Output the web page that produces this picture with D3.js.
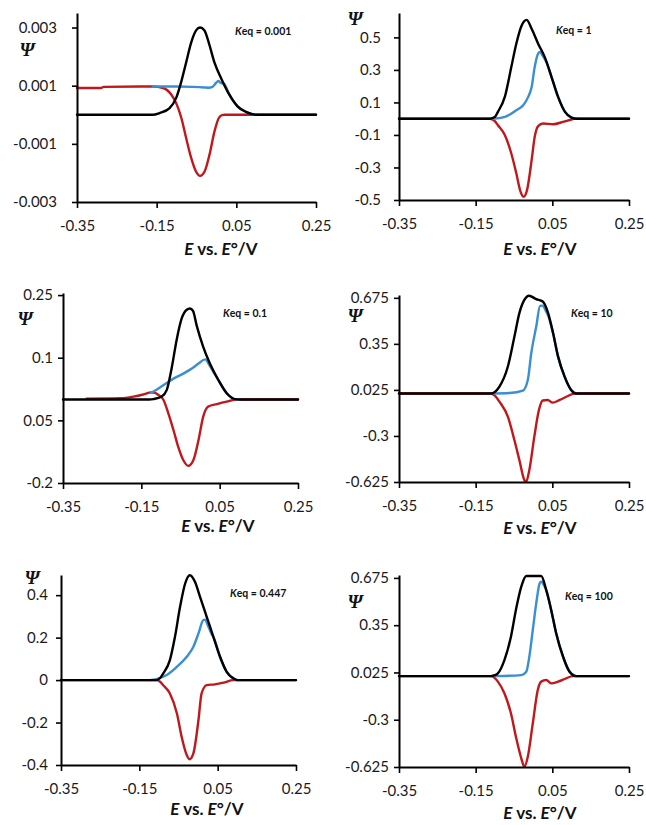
<!DOCTYPE html>
<html>
<head>
<meta charset="utf-8">
<script src="https://cdn.jsdelivr.net/npm/d3@7"></script>
<style>
  html, body { margin: 0; padding: 0; background: #fff; }
  svg { display: block; }
</style>
</head>
<body>
<svg id="chart" width="646" height="825"></svg>
<script>
// ---------------- DATA ----------------
const E_TICKS = [-0.35, -0.15, 0.05, 0.25];
const E_TICK_LABELS = ["-0.35", "-0.15", "0.05", "0.25"];
const E_DOMAIN = [-0.35, 0.25];
const KEQ_VALUES = ["0.001", "1", "0.1", "10", "0.447", "100"];

// Keq = 0.001
const k0001_yDomain = [-0.003, 0.0035];
const k0001_yTicks = [-0.003, -0.001, 0.001, 0.003];
const k0001_yLabels = ["-0.003", "-0.001", "0.001", "0.003"];
const k0001_black = [[-0.35,0],[-0.16,0],[-0.1425,0.00006],[-0.1175,0.00023],[-0.101,0.00058],[-0.088,0.00115],[-0.076,0.0018],[-0.063,0.0025],[-0.051,0.0029],[-0.041,0.0030],[-0.030,0.0029],[-0.0175,0.0024],[-0.005,0.0018],[0.012,0.00125],[0.0325,0.00069],[0.053,0.00029],[0.074,0.0001],[0.09,0.00002],[0.1,0],[0.25,0]];
const k0001_blue = [[-0.16,0.00097],[-0.1,0.00097],[-0.06,0.00096],[-0.03,0.00094],[-0.02,0.00093],[-0.01,0.00096],[0.0,0.00111],[0.005,0.00116],[0.011,0.00109],[0.018,0.00108],[0.0325,0.00069],[0.053,0.00029],[0.074,0.0001],[0.09,0.00002],[0.1,0]];
const k0001_red = [[-0.35,0.00092],[-0.29,0.00092],[-0.283,0.00096],[-0.19,0.00097],[-0.159,0.00097],[-0.134,0.00092],[-0.113,0.00069],[-0.101,0.0004],[-0.088,-0.00011],[-0.076,-0.0008],[-0.063,-0.0015],[-0.051,-0.00196],[-0.041,-0.0021],[-0.030,-0.00196],[-0.0175,-0.00138],[-0.005,-0.00058],[0.006,-0.00011],[0.014,-0.00001],[0.02,0],[0.25,0]];

// Keq = 1
const k1_yDomain = [-0.5, 0.65];
const k1_yTicks = [-0.5, -0.3, -0.1, 0.1, 0.3, 0.5];
const k1_yLabels = ["-0.5", "-0.3", "-0.1", "0.1", "0.3", "0.5"];
const k1_black = [[-0.35,0],[-0.113,0],[-0.100,0.01],[-0.092,0.042],[-0.074,0.134],[-0.057,0.318],[-0.044,0.461],[-0.030,0.573],[-0.017,0.608],[-0.004,0.553],[0.013,0.461],[0.030,0.38],[0.048,0.256],[0.065,0.134],[0.083,0.042],[0.10,0.007],[0.113,0],[0.25,0]];
const k1_blue = [[-0.105,0],[-0.070,0.015],[-0.044,0.052],[-0.026,0.083],[-0.013,0.134],[-0.004,0.195],[0.004,0.318],[0.013,0.40],[0.018,0.41],[0.024,0.39],[0.035,0.345],[0.048,0.256],[0.065,0.134],[0.083,0.042],[0.10,0.007],[0.113,0]];
const k1_red = [[-0.35,0],[-0.113,0],[-0.100,-0.015],[-0.092,-0.04],[-0.074,-0.10],[-0.057,-0.214],[-0.044,-0.336],[-0.033,-0.449],[-0.025,-0.48],[-0.016,-0.439],[-0.004,-0.255],[0.004,-0.112],[0.013,-0.046],[0.026,-0.03],[0.052,-0.034],[0.078,-0.02],[0.10,-0.005],[0.108,0],[0.25,0]];

// Keq = 0.1
const k01_yDomain = [-0.2, 0.255];
const k01_yTicks = [-0.2, -0.05, 0.1, 0.25];
const k01_yLabels = ["-0.2", "0.05", "0.1", "0.25"];
const k01_black = [[-0.35,0],[-0.13,0],[-0.119,0.001],[-0.098,0.007],[-0.085,0.023],[-0.072,0.078],[-0.060,0.142],[-0.047,0.194],[-0.034,0.215],[-0.026,0.218],[-0.018,0.212],[-0.009,0.178],[0.008,0.126],[0.025,0.086],[0.047,0.046],[0.068,0.015],[0.089,0.001],[0.102,0],[0.25,0]];
const k01_blue = [[-0.125,0.016],[-0.119,0.019],[-0.094,0.034],[-0.068,0.05],[-0.043,0.062],[-0.021,0.074],[-0.004,0.086],[0.013,0.096],[0.024,0.082],[0.038,0.06],[0.047,0.046],[0.068,0.015],[0.089,0.001],[0.102,0]];
const k01_red = [[-0.29,0.002],[-0.204,0.003],[-0.170,0.007],[-0.145,0.012],[-0.125,0.017],[-0.115,0.016],[-0.107,0.011],[-0.094,0],[-0.081,-0.033],[-0.068,-0.073],[-0.056,-0.113],[-0.043,-0.145],[-0.030,-0.159],[-0.017,-0.145],[-0.004,-0.097],[0.008,-0.041],[0.021,-0.017],[0.043,-0.011],[0.068,-0.005],[0.094,0],[0.25,0]];

// Keq = 10
const k10_yDomain = [-0.625, 0.695];
const k10_yTicks = [-0.625, -0.3, 0.025, 0.35, 0.675];
const k10_yLabels = ["-0.625", "-0.3", "0.025", "0.35", "0.675"];
const k10_black = [[-0.35,0],[-0.110,0],[-0.100,0.01],[-0.088,0.048],[-0.066,0.19],[-0.049,0.40],[-0.036,0.567],[-0.023,0.66],[-0.011,0.69],[0.008,0.666],[0.025,0.649],[0.039,0.567],[0.052,0.425],[0.065,0.26],[0.082,0.119],[0.099,0.025],[0.112,0],[0.25,0]];
const k10_blue = [[-0.101,0],[-0.062,0.003],[-0.027,0.02],[-0.014,0.095],[-0.005,0.284],[0.008,0.472],[0.018,0.618],[0.024,0.62],[0.034,0.578],[0.039,0.55],[0.052,0.425],[0.065,0.26],[0.082,0.119],[0.099,0.025],[0.112,0]];
const k10_red = [[-0.35,0],[-0.11,0],[-0.100,-0.015],[-0.088,-0.058],[-0.066,-0.164],[-0.049,-0.329],[-0.036,-0.47],[-0.023,-0.611],[-0.018,-0.622],[-0.010,-0.54],[0.003,-0.305],[0.015,-0.117],[0.025,-0.05],[0.038,-0.046],[0.051,-0.065],[0.069,-0.046],[0.091,-0.018],[0.108,0],[0.25,0]];

// Keq = 0.447
const k0447_yDomain = [-0.4, 0.495];
const k0447_yTicks = [-0.4, -0.2, 0, 0.2, 0.4];
const k0447_yLabels = ["-0.4", "-0.2", "0", "0.2", "0.4"];
const k0447_black = [[-0.35,0],[-0.106,0],[-0.097,0.01],[-0.089,0.031],[-0.072,0.094],[-0.059,0.204],[-0.046,0.345],[-0.033,0.455],[-0.021,0.494],[-0.008,0.463],[0.005,0.392],[0.022,0.298],[0.039,0.204],[0.056,0.11],[0.073,0.039],[0.09,0.008],[0.1,0],[0.25,0]];
const k0447_blue = [[-0.123,0],[-0.10,0.008],[-0.080,0.024],[-0.054,0.063],[-0.029,0.11],[-0.012,0.157],[0.001,0.22],[0.013,0.282],[0.018,0.285],[0.024,0.262],[0.035,0.215],[0.039,0.204],[0.056,0.11],[0.073,0.039],[0.09,0.008],[0.1,0]];
const k0447_red = [[-0.35,0],[-0.106,0],[-0.097,-0.008],[-0.089,-0.024],[-0.072,-0.063],[-0.054,-0.157],[-0.042,-0.267],[-0.029,-0.353],[-0.022,-0.373],[-0.012,-0.345],[0.001,-0.188],[0.009,-0.063],[0.022,-0.024],[0.043,-0.02],[0.065,-0.012],[0.09,0],[0.25,0]];

// Keq = 100
const k100_yDomain = [-0.625, 0.695];
const k100_yTicks = [-0.625, -0.3, 0.025, 0.35, 0.675];
const k100_yLabels = ["-0.625", "-0.3", "0.025", "0.35", "0.675"];
const k100_black = [[-0.35,0],[-0.110,0],[-0.100,0.006],[-0.092,0.019],[-0.075,0.11],[-0.058,0.271],[-0.045,0.455],[-0.031,0.615],[-0.018,0.688],[0.008,0.688],[0.021,0.688],[0.034,0.592],[0.047,0.455],[0.06,0.294],[0.078,0.133],[0.095,0.03],[0.112,0],[0.25,0]];
const k100_blue = [[-0.097,0],[-0.031,0.007],[-0.018,0.03],[-0.010,0.133],[-0.001,0.317],[0.008,0.5],[0.017,0.638],[0.021,0.649],[0.030,0.615],[0.034,0.592],[0.047,0.455],[0.06,0.294],[0.078,0.133],[0.095,0.03],[0.112,0]];
const k100_red = [[-0.35,0],[-0.11,0],[-0.092,-0.038],[-0.075,-0.118],[-0.058,-0.256],[-0.045,-0.417],[-0.031,-0.565],[-0.023,-0.623],[-0.014,-0.554],[-0.001,-0.325],[0.012,-0.096],[0.021,-0.038],[0.034,-0.027],[0.047,-0.05],[0.065,-0.038],[0.086,-0.015],[0.104,0],[0.25,0]];

// ---------------- LAYOUT ----------------
const panels = [
  { keq: KEQ_VALUES[0], yDomain: k0001_yDomain, yTicks: k0001_yTicks, yLabels: k0001_yLabels,
    black: k0001_black, blue: k0001_blue, red: k0001_red,
    xL: 77, xR: 316, yT: 13, yB: 202, yLabelGap: 20, psi: [27, 56], keqPos: [235, 35], title: [221, 255] },
  { keq: KEQ_VALUES[1], yDomain: k1_yDomain, yTicks: k1_yTicks, yLabels: k1_yLabels,
    black: k1_black, blue: k1_blue, red: k1_red,
    xL: 399, xR: 629, yT: 13, yB: 200, yLabelGap: 18, psi: [355, 25], keqPos: [556, 34], title: [540, 255] },
  { keq: KEQ_VALUES[2], yDomain: k01_yDomain, yTicks: k01_yTicks, yLabels: k01_yLabels,
    black: k01_black, blue: k01_blue, red: k01_red,
    xL: 63, xR: 298, yT: 293, yB: 483, yLabelGap: 10, psi: [25, 325], keqPos: [223, 317], title: [218, 532] },
  { keq: KEQ_VALUES[3], yDomain: k10_yDomain, yTicks: k10_yTicks, yLabels: k10_yLabels,
    black: k10_black, blue: k10_blue, red: k10_red,
    xL: 399, xR: 629, yT: 295, yB: 482, yLabelGap: 10, psi: [355, 322], keqPos: [571, 317], title: [540, 534] },
  { keq: KEQ_VALUES[4], yDomain: k0447_yDomain, yTicks: k0447_yTicks, yLabels: k0447_yLabels,
    black: k0447_black, blue: k0447_blue, red: k0447_red,
    xL: 61, xR: 296, yT: 575, yB: 765, yLabelGap: 13, psi: [32, 584], keqPos: [230, 597], title: [207, 815] },
  { keq: KEQ_VALUES[5], yDomain: k100_yDomain, yTicks: k100_yTicks, yLabels: k100_yLabels,
    black: k100_black, blue: k100_blue, red: k100_red,
    xL: 399, xR: 629, yT: 575, yB: 767, yLabelGap: 10, psi: [355, 608], keqPos: [565, 600], title: [540, 819] }
];

const COLORS = { red: "#c0181c", blue: "#3a8fd3", black: "#000000" };
const TICK_FONT = "Lato, 'Open Sans', sans-serif";

const svg = d3.select("#chart");

panels.forEach(p => {
  const x = d3.scaleLinear().domain(E_DOMAIN).range([p.xL, p.xR]);
  const y = d3.scaleLinear().domain(p.yDomain).range([p.yB, p.yT]);
  const g = svg.append("g");

  // curves
  const line = d3.line().x(d => x(d[0])).y(d => y(d[1])).curve(d3.curveMonotoneX);
  [["red", p.red], ["blue", p.blue], ["black", p.black]].forEach(([c, data]) => {
    g.append("path").datum(data).attr("d", line)
      .attr("fill", "none").attr("stroke", COLORS[c]).attr("stroke-width", 2.4)
      .attr("stroke-linejoin", "round").attr("stroke-linecap", "round");
  });

  // y axis
  const yAxis = d3.axisLeft(y).tickValues(p.yTicks)
    .tickFormat((d, i) => p.yLabels[i]).tickSize(5).tickSizeOuter(0)
    .tickPadding(p.yLabelGap - 5);
  const ya = g.append("g").attr("transform", `translate(${p.xL},0)`).call(yAxis);

  // x axis
  const xAxis = d3.axisBottom(x).tickValues(E_TICKS)
    .tickFormat((d, i) => E_TICK_LABELS[i]).tickSize(6).tickSizeOuter(0).tickPadding(12);
  const xa = g.append("g").attr("transform", `translate(0,${p.yB})`).call(xAxis);

  [ya, xa].forEach(a => {
    a.select(".domain").attr("stroke", "#000").attr("stroke-width", 2);
    a.selectAll(".tick line").attr("stroke", "#000").attr("stroke-width", 1.6);
    a.selectAll(".tick text").attr("font-family", TICK_FONT).attr("font-size", 15).attr("fill", "#1a1a1a");
  });

  // Psi label
  g.append("text").attr("x", p.psi[0]).attr("y", p.psi[1])
    .attr("text-anchor", "middle")
    .attr("font-family", "'Liberation Serif', 'DejaVu Serif', serif")
    .attr("font-weight", "bold").attr("font-style", "italic").attr("font-size", 19)
    .attr("fill", "#111").text("Ψ");

  // Keq label
  const kt = g.append("text").attr("x", p.keqPos[0]).attr("y", p.keqPos[1])
    .attr("font-family", TICK_FONT).attr("font-weight", "bold").attr("font-size", 10.5).attr("fill", "#111");
  kt.append("tspan").attr("font-style", "italic").text("K");
  kt.append("tspan").text("eq = " + p.keq);

  // x axis title
  const tt = g.append("text").attr("x", p.title[0]).attr("y", p.title[1])
    .attr("text-anchor", "middle")
    .attr("font-family", TICK_FONT).attr("font-weight", "bold").attr("font-size", 17).attr("fill", "#111");
  tt.append("tspan").attr("font-style", "italic").text("E");
  tt.append("tspan").text(" vs. ");
  tt.append("tspan").attr("font-style", "italic").text("E");
  tt.append("tspan").text("°/V");
});
</script>
</body>
</html>
